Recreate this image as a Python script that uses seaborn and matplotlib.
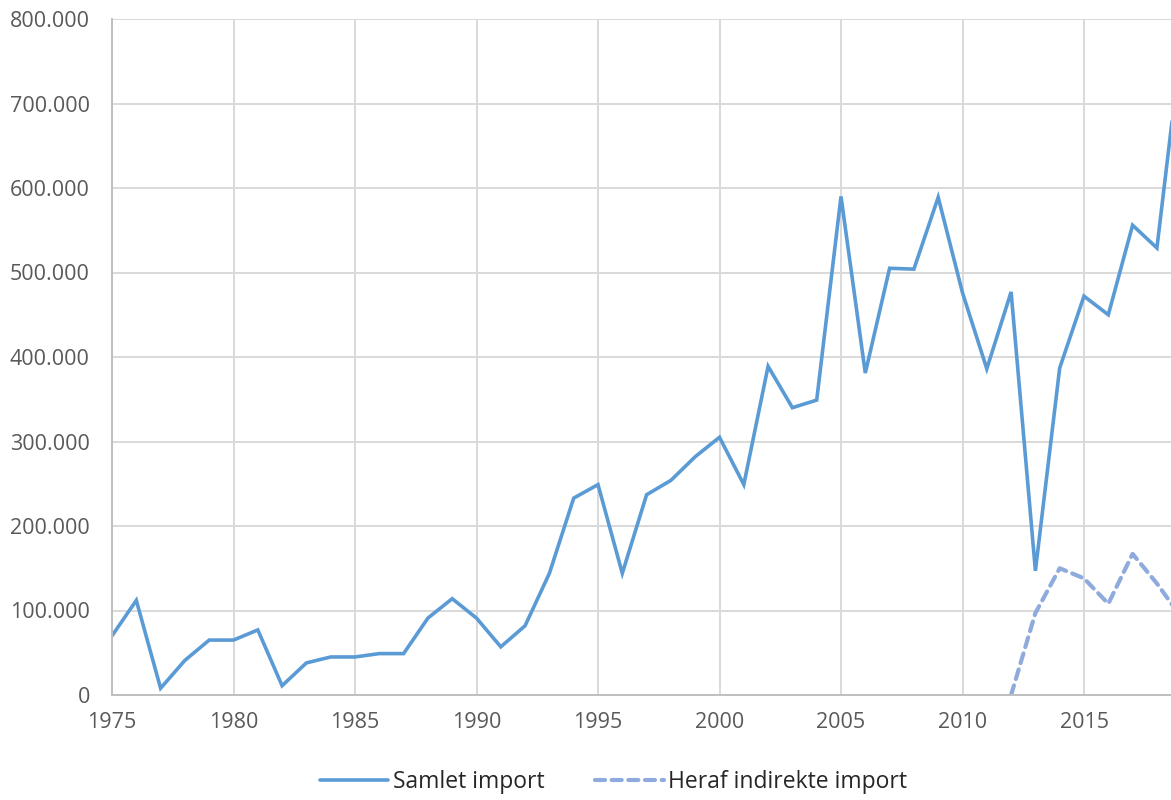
import numpy as np
import pandas as pd
import matplotlib
matplotlib.use("Agg")
import matplotlib.pyplot as plt
import seaborn as sns
from matplotlib.ticker import FuncFormatter

years = list(range(1975, 2020))
samlet = [70000, 112000, 8000, 41000, 65000, 65000, 77000, 11000, 38000, 45000,
          45000, 49000, 49000, 91000, 114000, 91000, 57000, 82000, 144000, 233000,
          249000, 144000, 237000, 254000, 282000, 305000, 249000, 389000, 340000, 349000,
          590000, 381000, 505000, 504000, 589000, 476000, 386000, 477000, 147000, 387000,
          472000, 450000, 556000, 529000, 770000]

ind_years = list(range(2012, 2020))
indirekte = [0, 97000, 150000, 138000, 108000, 167000, 132000, 92000]

label_samlet = "Samlet import"
label_ind = "Heraf indirekte import"

sns.set_theme(style="white")
plt.rcParams['font.family'] = ['Open Sans', 'DejaVu Sans']

fig = plt.figure(figsize=(11.71, 8), dpi=100)
ax = fig.add_axes([112 / 1171, 105 / 800, 1 - 112 / 1171, 676 / 800])

df1 = pd.DataFrame({"year": years, "value": samlet})
df2 = pd.DataFrame({"year": ind_years, "value": indirekte})

sns.lineplot(data=df1, x="year", y="value", ax=ax, color="#5b9bd5", linewidth=2.6,
             label=label_samlet, solid_joinstyle="miter")
sns.lineplot(data=df2, x="year", y="value", ax=ax, color="#8faadc", linewidth=3.0,
             label=label_ind, linestyle=(0, (2.4, 1.6)), dash_capstyle="round")

ax.set_xlim(1975, 1975 + (1171 - 112) / 24.3)
ax.set_ylim(0, 800000)
ax.set_xticks(range(1975, 2020, 5))
ax.set_yticks(range(0, 800001, 100000))
ax.yaxis.set_major_formatter(FuncFormatter(lambda v, p: "0" if v == 0 else f"{int(v):,}".replace(",", ".")))

ax.grid(True, color="#d9d9d9", linewidth=1.4)
ax.set_axisbelow(True)
for s in ["top", "right"]:
    ax.spines[s].set_visible(False)
ax.spines["left"].set_color("#bfbfbf")
ax.spines["bottom"].set_color("#bfbfbf")
ax.spines["left"].set_linewidth(1.4)
ax.spines["bottom"].set_linewidth(1.4)
ax.tick_params(axis="both", length=0, labelsize=15.5, labelcolor="#595959")
ax.tick_params(axis="y", pad=16)
ax.tick_params(axis="x", pad=12)
ax.set_xlabel("")
ax.set_ylabel("")

handles, labels = ax.get_legend_handles_labels()
ax.get_legend().remove()
fig.legend(handles, labels, loc="center", bbox_to_anchor=(0.524, 0.022), ncol=2,
           frameon=False, fontsize=16.5, handlelength=3.0, handletextpad=0.2, columnspacing=2.2,
           labelcolor="#262626")

fig.savefig("out.png", dpi=100)
